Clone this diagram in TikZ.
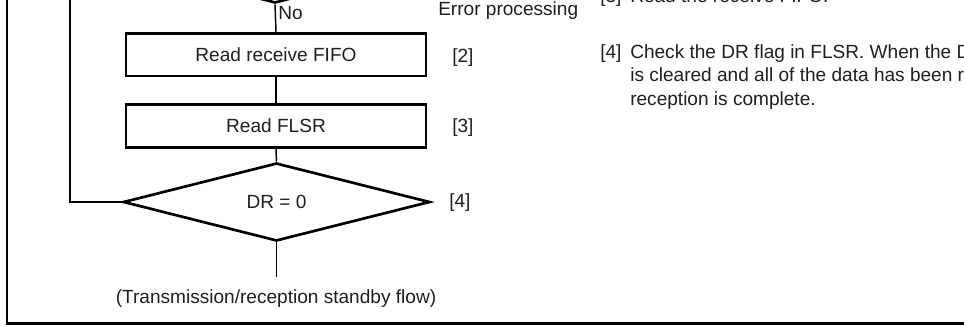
\documentclass[tikz,border=0pt]{standalone}
\usepackage{fontspec}
\setmainfont{Liberation Sans}
\usetikzlibrary{shapes.geometric}
\begin{document}
\begin{tikzpicture}[x=0.75pt,y=-0.75pt,
  every node/.style={font=\fontsize{14.3}{17.6}\selectfont, text=black!88},
  procbox/.style={draw, line width=2pt, minimum width=225pt, minimum height=32pt, inner sep=0pt},
  decision/.style={draw, diamond, line width=2pt, minimum width=230pt, minimum height=58.5pt, inner sep=0pt},
  conn/.style={line width=1.1pt},
  frame/.style={line width=2pt},
  plain/.style={inner sep=0pt, anchor=base west}]
\useasboundingbox (0,0) rectangle (964,325);
\clip (0,0) rectangle (964,325);
% outer frame
\coordinate (fTL) at (7,-10);
\coordinate (fBL) at (7,323.5);
\coordinate (fBR) at (980,323.5);
\draw[frame] (fTL) -- (fBL) -- (fBR);
% flowchart
\node[decision] (dec1) at (275,-36) {};
\node[procbox] (box1) at (276,54.5) {Read receive FIFO};
\node[procbox] (box2) at (276,126) {Read FLSR};
\node[decision] (dr) at (276.5,202) {DR = 0};
\coordinate (stemEnd) at (276.5,277);
\coordinate (loopCorner) at (70,202);
\coordinate (loopTop) at (70,-10);
\draw[conn] (dec1.south) -- (box1.north);
\draw[conn] (box1.south) -- (box2.north);
\draw[conn] (box2.south) -- (dr.north);
\draw[conn] (dr.south) -- (stemEnd);
\draw[conn] (dr.west) -- (loopCorner) -- (loopTop);
\node[plain] (no) at (278,19) {No};
\node[plain] (err) at (438,15.5) {Error processing};
\node[plain] (l2) at (452,62) {[2]};
\node[plain] (l3) at (452,132.5) {[3]};
\node[plain] (l4) at (449,207.5) {[4]};
\node (standby) at (276,299) {(Transmission/reception standby flow)};
% description text
\node[plain] (d3n) at (600,2) {[3]};
\node[plain] (d3t) at (630,2) {Read the receive FIFO.};
\node[plain] (d4n) at (600,58) {[4]};
\node[plain] (d4a) at (630,58) {Check the DR flag in FLSR. When the DR flag};
\node[plain] (d4b) at (630,81.5) {is cleared and all of the data has been received,};
\node[plain] (d4c) at (630,105) {reception is complete.};
\end{tikzpicture}
\end{document}
